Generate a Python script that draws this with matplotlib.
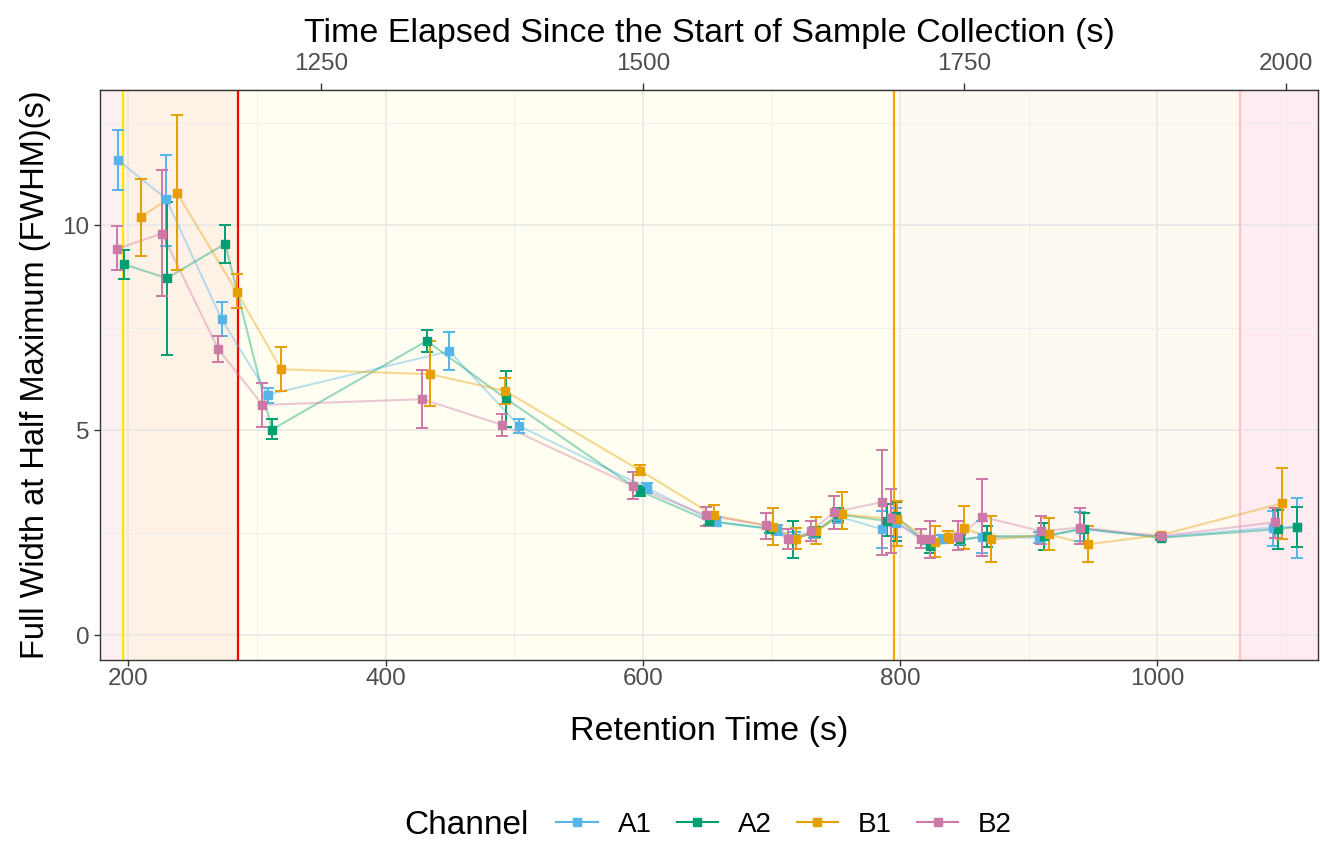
import matplotlib
matplotlib.use("Agg")
import matplotlib.pyplot as plt
from matplotlib.lines import Line2D

plt.rcParams['font.family'] = ['Liberation Sans', 'DejaVu Sans']

# retention time (s), FWHM (s), lower and upper error bar ends
a1_rt = [192, 229.3, 272.5, 308.7, 449.6, 503.7, 602.9, 657, 704, 718, 733, 752, 786, 797,
         820, 833, 847, 864, 908, 940, 1003, 1090, 1109]
a1_y = [11.59, 10.65, 7.71, 5.87, 6.93, 5.11, 3.60, 2.76, 2.58, 2.38, 2.50, 2.90, 2.59, 2.75,
        2.32, 2.35, 2.32, 2.40, 2.38, 2.60, 2.40, 2.63, 2.65]
a1_lo = [10.86, 9.50, 7.29, 5.67, 6.46, 4.94, 3.48, 2.66, 2.45, 2.25, 2.38, 2.75, 2.14, 2.40,
         2.22, 2.25, 2.20, 2.00, 2.25, 2.30, 2.35, 2.18, 1.89]
a1_hi = [12.32, 11.71, 8.13, 6.03, 7.40, 5.27, 3.72, 2.88, 2.70, 2.52, 2.62, 3.05, 3.03, 3.10,
         2.42, 2.45, 2.45, 2.80, 2.52, 3.00, 2.45, 3.03, 3.34]

a2_rt = [196.6, 230, 275.3, 311.6, 432, 493.3, 597.8, 651.5, 699, 717, 734, 752, 790, 797,
         823, 847, 868, 912, 943, 1003, 1094, 1109]
a2_y = [9.05, 8.71, 9.55, 5.02, 7.18, 5.78, 3.52, 2.79, 2.60, 2.34, 2.52, 2.95, 2.79, 2.90,
        2.18, 2.34, 2.42, 2.42, 2.60, 2.38, 2.59, 2.65]
a2_lo = [8.68, 6.84, 9.08, 4.80, 6.90, 5.07, 3.40, 2.68, 2.50, 1.89, 2.40, 2.80, 2.42, 2.30,
         2.00, 2.20, 2.15, 2.07, 2.22, 2.33, 2.10, 2.15]
a2_hi = [9.41, 10.57, 10.01, 5.27, 7.45, 6.44, 3.65, 2.90, 2.72, 2.79, 2.65, 3.10, 3.20, 3.25,
         2.35, 2.48, 2.66, 2.75, 2.98, 2.43, 3.05, 3.14]

b1_rt = [209.8, 237.8, 284.4, 318.8, 434.6, 493, 598, 655, 701, 719, 735, 755, 798, 827,
         837, 850, 871, 916, 946, 1003, 1097]
b1_y = [10.20, 10.79, 8.37, 6.49, 6.37, 5.96, 4.02, 2.93, 2.65, 2.35, 2.55, 2.95, 2.83, 2.27,
        2.40, 2.63, 2.34, 2.46, 2.22, 2.45, 3.22]
b1_lo = [9.25, 8.90, 7.98, 5.95, 5.59, 5.64, 3.90, 2.75, 2.20, 2.10, 2.22, 2.59, 2.18, 1.90,
         2.25, 2.10, 1.78, 2.07, 1.79, 2.40, 2.34]
b1_hi = [11.14, 12.68, 8.82, 7.03, 7.17, 6.27, 4.15, 3.17, 3.11, 2.63, 2.88, 3.50, 3.28, 2.67,
         2.55, 3.15, 2.90, 2.87, 2.67, 2.50, 4.07]

b2_rt = [191.5, 226.2, 269.9, 304.3, 428.6, 490.8, 592.5, 649, 696, 713, 731, 749, 786, 793,
         816.5, 823.5, 845, 864, 909.6, 940, 1003, 1091.8]
b2_y = [9.43, 9.80, 6.98, 5.62, 5.76, 5.13, 3.64, 2.93, 2.68, 2.34, 2.54, 3.01, 3.25, 2.85,
        2.34, 2.34, 2.40, 2.89, 2.54, 2.63, 2.42, 2.76]
b2_lo = [8.90, 8.28, 6.66, 5.07, 5.05, 4.86, 3.32, 2.66, 2.36, 2.10, 2.30, 2.59, 1.95, 2.02,
         2.14, 1.89, 2.07, 1.93, 2.22, 2.22, 2.37, 2.38]
b2_hi = [9.98, 11.34, 7.29, 6.15, 6.46, 5.39, 3.98, 3.14, 2.99, 2.60, 2.80, 3.41, 4.51, 3.56,
         2.59, 2.79, 2.79, 3.82, 2.90, 3.11, 2.47, 3.11]

channels = ['A1', 'A2', 'B1', 'B2']
colors = ['#56B4E9', '#009E73', '#E69F00', '#CC79A7']

# shaded retention-time regions and marker lines
band_edges = [178, 196, 285.5, 797, 1064, 1125]
band_colors = ['#FDF0F3', '#FEF1E6', '#FFFEF1', '#FEF9F1', '#FEECF0']
vline_x = [196, 285.5, 795, 1064]
vline_colors = ['#FFE800', '#FF0000', '#FFA500', '#FFC0CB']

series = [
    (a1_rt, a1_y, a1_lo, a1_hi),
    (a2_rt, a2_y, a2_lo, a2_hi),
    (b1_rt, b1_y, b1_lo, b1_hi),
    (b2_rt, b2_y, b2_lo, b2_hi),
]

fig = plt.figure(figsize=(13.2, 8.42), dpi=100)
ax = fig.add_axes([0.0758, 0.2162, 0.9227, 0.6769])

for i in range(len(band_colors)):
    ax.axvspan(band_edges[i], band_edges[i + 1], color=band_colors[i], lw=0, zorder=0.1)

ax.set_axisbelow(True)
ax.grid(True, which='major', color='#E6E6E6', lw=1.1)
ax.grid(True, which='minor', color='#EDEDED', lw=0.6)

for x, c in zip(vline_x, vline_colors):
    ax.axvline(x, color=c, lw=1.6, zorder=1)

for (rt, y, lo, hi), col in zip(series, colors):
    ax.plot(rt, y, color=col, lw=1.5, alpha=0.4, zorder=2)
    yerr = [[v - l for v, l in zip(y, lo)], [h - v for v, h in zip(y, hi)]]
    ax.errorbar(rt, y, yerr=yerr, fmt='none', ecolor=col, elinewidth=1.4,
                capsize=4.5, capthick=1.4, zorder=3)
    ax.plot(rt, y, 's', color=col, ms=6, zorder=4, lw=0)

ax.set_xlim(178, 1125)
ax.set_ylim(-0.6, 13.3)
ax.set_xticks([200, 400, 600, 800, 1000])
ax.set_xticks([300, 500, 700, 900, 1100], minor=True)
ax.set_yticks([0, 5, 10])
ax.set_yticks([2.5, 7.5, 12.5], minor=True)
ax.tick_params(which='major', length=4, width=1, color='#333333', labelcolor='#4D4D4D',
               labelsize=17.5)
ax.tick_params(axis='x', which='major', pad=1.5)
ax.tick_params(which='minor', length=0)
for s in ax.spines.values():
    s.set_color('#333333')
    s.set_linewidth(1)

ax.set_xlabel('Retention Time (s)', fontsize=24.5, labelpad=19)
ax.set_ylabel('Full Width at Half Maximum (FWHM)(s)', fontsize=23.5, labelpad=8)

top = ax.secondary_xaxis('top', functions=(lambda x: x + 900, lambda x: x - 900))
top.set_xticks([1250, 1500, 1750, 2000])
top.tick_params(length=5, width=1, color='#333333', labelcolor='#4D4D4D', labelsize=17.5,
                pad=5.5)
top.set_xlabel('Time Elapsed Since the Start of Sample Collection (s)', fontsize=24.5,
               labelpad=8)

handles = [Line2D([0], [0], color=c, marker='s', ms=6, lw=1.5) for c in colors]
fig.text(0.306, 0.02, 'Channel', fontsize=24, va='center', ha='left')
fig.legend(handles, channels, loc='center', bbox_to_anchor=(0.594, 0.02), ncol=4,
           frameon=False, fontsize=20, handlelength=1.5, handletextpad=0.7,
           columnspacing=0.9)

fig.savefig('out.png', dpi=100)
